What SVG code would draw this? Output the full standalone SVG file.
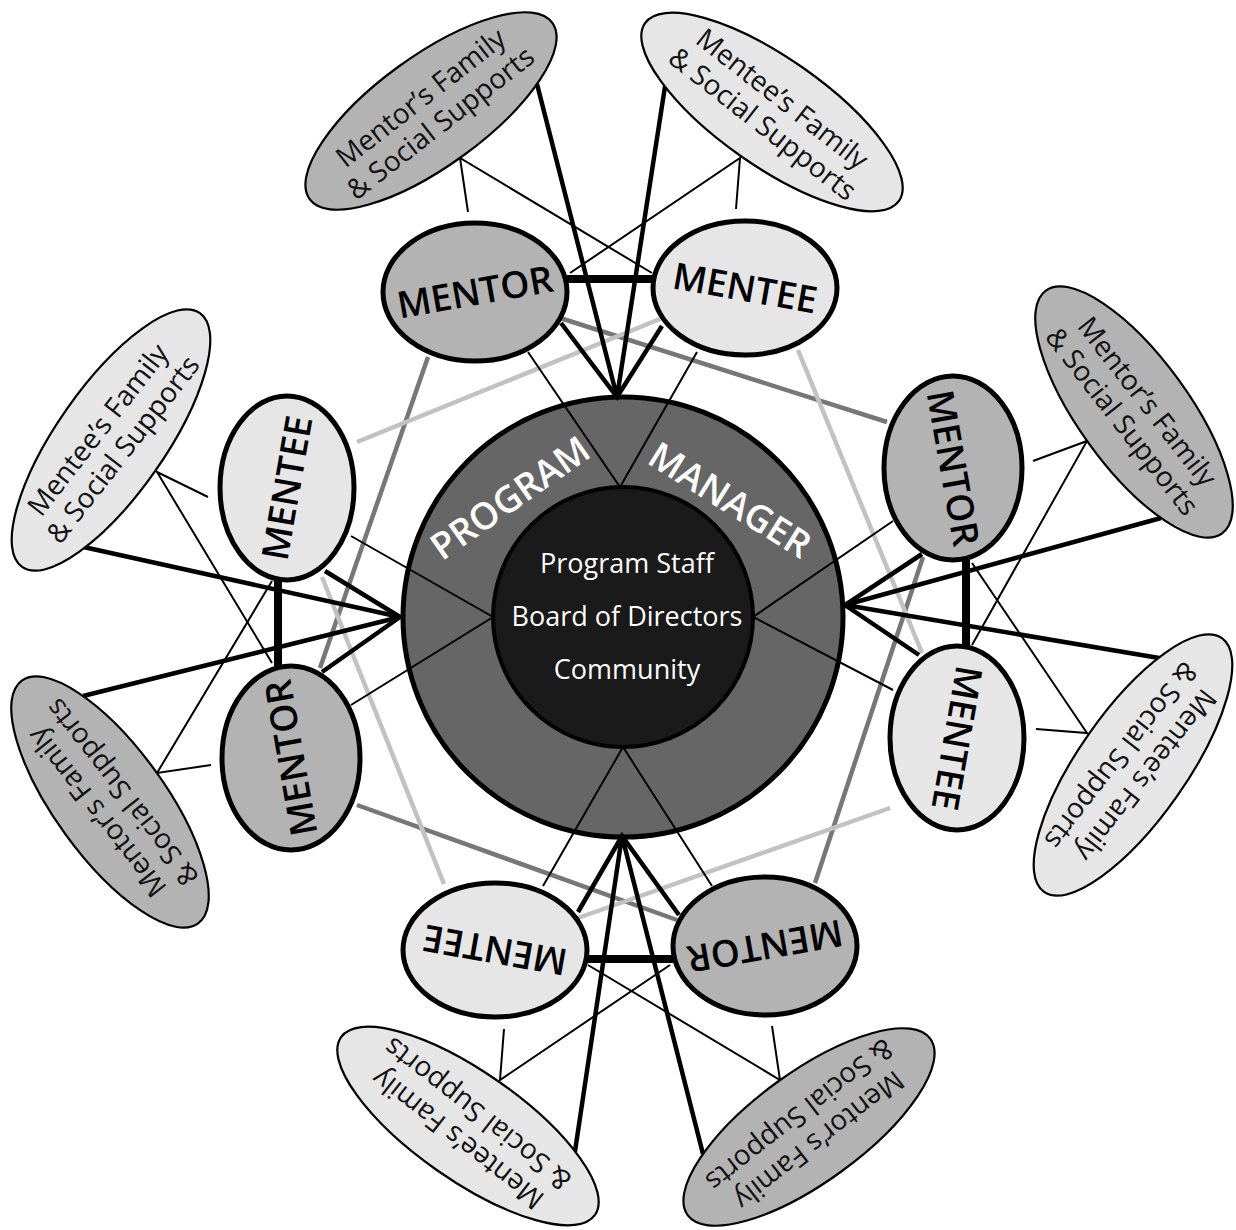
<svg xmlns="http://www.w3.org/2000/svg" width="1236" height="1230" viewBox="0 0 1236 1230">
<style>
.node{stroke:#000;stroke-width:5}
.mentor{fill:#b3b3b3}
.mentee{fill:#e6e6e6}
.fam{stroke:#000;stroke-width:2.2}
.lbl{font-family:"Open Sans","Liberation Sans",sans-serif;font-weight:600;font-size:37px;text-anchor:middle;fill:#000}
.ftxt{font-family:"Open Sans","Liberation Sans",sans-serif;font-size:28px;text-anchor:middle;fill:#111}
.thick{stroke:#000;stroke-width:4.5;fill:none}
.thin{stroke:#000;stroke-width:2;fill:none}
.bar{stroke:#000;stroke-width:8}
.g1{stroke:#777;stroke-width:4.5}
.g2{stroke:#c2c2c2;stroke-width:4.5}
.ctr{font-family:"Open Sans","Liberation Sans",sans-serif;fill:#fff;text-anchor:middle}
</style>
<rect width="1236" height="1230" fill="#fff"/>

<g id="program-manager">
<circle cx="623" cy="617" r="220" fill="#666" stroke="#000" stroke-width="5"/>
<text class="ctr" font-size="37" font-weight="600" transform="translate(510 498) rotate(-35)" x="0" y="13">PROGRAM</text>
<text class="ctr" font-size="37" font-weight="600" transform="translate(730 500) rotate(32)" x="0" y="13">MANAGER</text>
</g>

<g id="connectors">
<line class="g1" x1="560" y1="318" x2="887" y2="422"/>
<line class="g1" x1="923" y1="557" x2="815" y2="883"/>
<line class="g1" x1="677" y1="920" x2="357" y2="805"/>
<line class="g1" x1="320" y1="668" x2="428" y2="357"/>
<line class="g2" x1="660" y1="319" x2="357" y2="442"/>
<line class="g2" x1="798" y1="350" x2="922" y2="653"/>
<line class="g2" x1="890" y1="808" x2="578" y2="918"/>
<line class="g2" x1="444" y1="884" x2="322" y2="577"/>
<g id="conn-top">
<line class="bar" x1="567" y1="279" x2="653" y2="279"/>
<polyline class="thick" points="537,84 617,397 666,80"/>
<polyline class="thick" points="561,323 617,397 662,326"/>
<polyline class="thin" points="468,212 460,158 652,273"/>
<polyline class="thin" points="736,209 740,158 570,273"/>
<polyline class="thin" points="528,352 620,487 697,352"/>
</g>
<g id="conn-right" transform="translate(8,-2) rotate(90 621 616)">
<line class="bar" x1="567" y1="279" x2="653" y2="279"/>
<polyline class="thick" points="525,84 612,400 666,80"/>
<polyline class="thick" points="561,323 612,400 662,326"/>
<polyline class="thin" points="468,212 448,158 652,273"/>
<polyline class="thin" points="736,209 740,158 570,273"/>
<polyline class="thin" points="528,352 624,492 697,352"/>
</g>
<g id="conn-bottom" transform="translate(-2,6) rotate(180 621 616)">
<line class="bar" x1="567" y1="279" x2="653" y2="279"/>
<polyline class="thick" points="537,84 618,402 666,80"/>
<polyline class="thick" points="561,323 618,402 662,326"/>
<polyline class="thin" points="468,212 460,158 652,273"/>
<polyline class="thin" points="736,209 740,158 570,273"/>
<polyline class="thin" points="528,352 617,491 697,352"/>
</g>
<g id="conn-left" transform="translate(-6,-4) rotate(270 621 616)">
<line class="bar" x1="567" y1="279" x2="653" y2="279"/>
<polyline class="thick" points="537,84 616,401 687,80"/>
<polyline class="thick" points="561,323 616,401 662,326"/>
<polyline class="thin" points="468,212 460,158 652,273"/>
<polyline class="thin" points="736,209 761,158 570,273"/>
<polyline class="thin" points="528,352 616,494 697,352"/>
</g>
</g>

<g id="program-staff">
<circle cx="623" cy="617" r="130" fill="#1a1a1a" stroke="#000" stroke-width="4"/>
<text class="ctr" font-size="27" x="627" y="573">Program Staff</text>
<text class="ctr" font-size="27" x="627" y="626">Board of Directors</text>
<text class="ctr" font-size="27" x="627" y="679">Community</text>
</g>

<!-- top -->
<g id="mentor-family-top">
<ellipse class="fam mentor" cx="431" cy="111" rx="150" ry="55" transform="rotate(-36 431 111)"/>
<g transform="rotate(-38 431 111)"><text class="ftxt" x="431" y="104">Mentor’s Family</text><text class="ftxt" x="431" y="136">&amp; Social Supports</text></g>
</g>
<g id="mentee-family-top">
<ellipse class="fam mentee" cx="772" cy="112" rx="155" ry="54" transform="rotate(35 772 112)"/>
<g transform="rotate(38 772 112)"><text class="ftxt" x="772" y="105">Mentee’s Family</text><text class="ftxt" x="772" y="137">&amp; Social Supports</text></g>
</g>
<g id="mentor-top">
<ellipse class="node mentor" cx="475" cy="292" rx="92" ry="69"/>
<text class="lbl" transform="rotate(-10 475 292)" x="475" y="305">MENTOR</text>
</g>
<g id="mentee-top">
<ellipse class="node mentee" cx="745" cy="288" rx="92" ry="67"/>
<text class="lbl" transform="rotate(10 745 288)" x="745" y="301">MENTEE</text>
</g>

<!-- right -->
<g id="mentor-family-right" transform="translate(8,-2) rotate(90 621 616)">
<ellipse class="fam mentor" cx="419" cy="111" rx="150" ry="55" transform="rotate(-36 419 111)"/>
<g transform="rotate(-38 419 111)"><text class="ftxt" x="419" y="104">Mentor’s Family</text><text class="ftxt" x="419" y="136">&amp; Social Supports</text></g>
</g>
<g id="mentee-family-right" transform="translate(8,-2) rotate(90 621 616)">
<ellipse class="fam mentee" cx="772" cy="112" rx="155" ry="54" transform="rotate(35 772 112)"/>
<g transform="rotate(38 772 112)"><text class="ftxt" x="772" y="105">Mentee’s Family</text><text class="ftxt" x="772" y="137">&amp; Social Supports</text></g>
</g>
<g id="mentor-right" transform="translate(8,-2) rotate(90 621 616)">
<ellipse class="node mentor" cx="475" cy="292" rx="92" ry="69"/>
<text class="lbl" transform="rotate(-10 475 292)" x="475" y="305">MENTOR</text>
</g>
<g id="mentee-right" transform="translate(8,-2) rotate(90 621 616)">
<ellipse class="node mentee" cx="745" cy="288" rx="92" ry="67"/>
<text class="lbl" transform="rotate(10 745 288)" x="745" y="301">MENTEE</text>
</g>

<!-- bottom -->
<g id="mentor-family-bottom" transform="translate(-2,6) rotate(180 621 616)">
<ellipse class="fam mentor" cx="431" cy="111" rx="150" ry="55" transform="rotate(-36 431 111)"/>
<g transform="rotate(-38 431 111)"><text class="ftxt" x="431" y="104">Mentor’s Family</text><text class="ftxt" x="431" y="136">&amp; Social Supports</text></g>
</g>
<g id="mentee-family-bottom" transform="translate(-2,6) rotate(180 621 616)">
<ellipse class="fam mentee" cx="772" cy="112" rx="155" ry="54" transform="rotate(35 772 112)"/>
<g transform="rotate(38 772 112)"><text class="ftxt" x="772" y="105">Mentee’s Family</text><text class="ftxt" x="772" y="137">&amp; Social Supports</text></g>
</g>
<g id="mentor-bottom" transform="translate(-2,6) rotate(180 621 616)">
<ellipse class="node mentor" cx="475" cy="292" rx="92" ry="69"/>
<text class="lbl" transform="rotate(-10 475 292)" x="475" y="305">MENTOR</text>
</g>
<g id="mentee-bottom" transform="translate(-2,6) rotate(180 621 616)">
<ellipse class="node mentee" cx="745" cy="288" rx="92" ry="67"/>
<text class="lbl" transform="rotate(10 745 288)" x="745" y="301">MENTEE</text>
</g>

<!-- left -->
<g id="mentor-family-left" transform="translate(-6,-4) rotate(270 621 616)">
<ellipse class="fam mentor" cx="431" cy="111" rx="150" ry="55" transform="rotate(-36 431 111)"/>
<g transform="rotate(-38 431 111)"><text class="ftxt" x="431" y="104">Mentor’s Family</text><text class="ftxt" x="431" y="136">&amp; Social Supports</text></g>
</g>
<g id="mentee-family-left" transform="translate(-6,-4) rotate(270 621 616)">
<ellipse class="fam mentee" cx="793" cy="112" rx="155" ry="54" transform="rotate(35 793 112)"/>
<g transform="rotate(38 793 112)"><text class="ftxt" x="793" y="105">Mentee’s Family</text><text class="ftxt" x="793" y="137">&amp; Social Supports</text></g>
</g>
<g id="mentor-left" transform="translate(-6,-4) rotate(270 621 616)">
<ellipse class="node mentor" cx="475" cy="292" rx="92" ry="69"/>
<text class="lbl" transform="rotate(-10 475 292)" x="475" y="305">MENTOR</text>
</g>
<g id="mentee-left" transform="translate(-6,-4) rotate(270 621 616)">
<ellipse class="node mentee" cx="745" cy="288" rx="92" ry="67"/>
<text class="lbl" transform="rotate(10 745 288)" x="745" y="301">MENTEE</text>
</g>
</svg>
